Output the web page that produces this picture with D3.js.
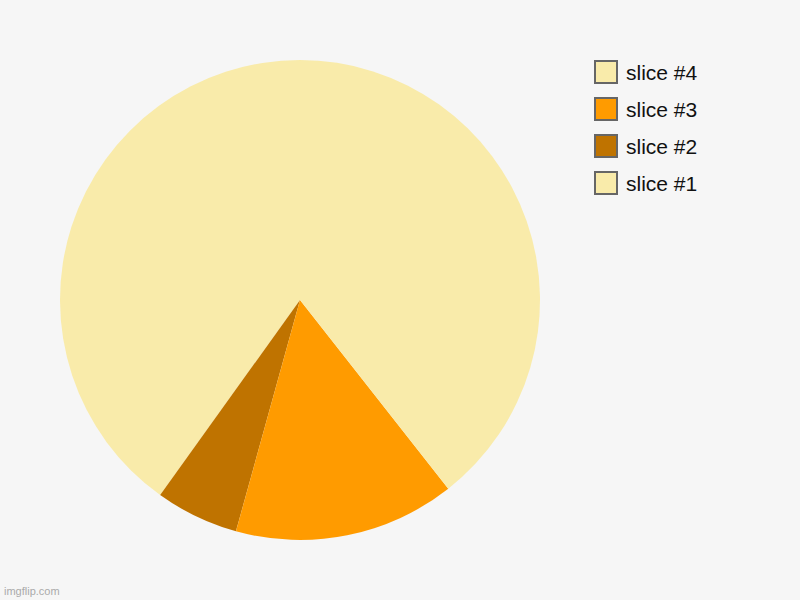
<!DOCTYPE html>
<html>
<head>
<meta charset="utf-8">
<script src="https://cdn.jsdelivr.net/npm/d3@7"></script>
<style>
  body { margin: 0; background: #f6f6f6; }
  svg { display: block; }
</style>
</head>
<body>
<svg id="chart" width="800" height="600"></svg>
<script>
var labels = ["slice #1", "slice #2", "slice #3", "slice #4"];
var values = [40.1, 5.6, 14.9, 39.4];
var colors = ["#f9ebaa", "#bf7300", "#ff9b00", "#f9ebaa"];

var width = 800, height = 600;
var cx = 300, cy = 300, radius = 240;

var svg = d3.select("#chart");

svg.append("rect")
    .attr("width", width)
    .attr("height", height)
    .attr("fill", "#f6f6f6");

// slices run counter-clockwise from 12 o'clock
var pie = d3.pie()
    .sort(null)
    .startAngle(0)
    .endAngle(-2 * Math.PI);

var arc = d3.arc()
    .innerRadius(0)
    .outerRadius(radius);

var data = labels.map(function (d, i) {
    return { label: d, value: values[i], color: colors[i] };
});

svg.append("g")
    .attr("transform", "translate(" + cx + "," + cy + ")")
    .selectAll("path")
    .data(pie.value(function (d) { return d.value; })(data))
    .enter()
    .append("path")
    .attr("d", arc)
    .attr("fill", function (d) { return d.data.color; });

// legend, listed last slice first
var legend = svg.append("g")
    .attr("transform", "translate(595,61)");

var item = legend.selectAll("g")
    .data(data.slice().reverse())
    .enter()
    .append("g")
    .attr("transform", function (d, i) { return "translate(0," + (i * 37) + ")"; });

item.append("rect")
    .attr("width", 22)
    .attr("height", 22)
    .attr("fill", function (d) { return d.color; })
    .attr("stroke", "#666666")
    .attr("stroke-width", 2);

item.append("text")
    .attr("x", 31)
    .attr("y", 19)
    .attr("font-family", "Liberation Sans, Arial, sans-serif")
    .attr("font-size", 21)
    .attr("fill", "#111111")
    .text(function (d) { return d.label; });

svg.append("text")
    .attr("x", 4)
    .attr("y", 595)
    .attr("font-family", "Liberation Sans, Arial, sans-serif")
    .attr("font-size", 11)
    .attr("fill", "#aaaaaa")
    .text("imgflip.com");
</script>
</body>
</html>
